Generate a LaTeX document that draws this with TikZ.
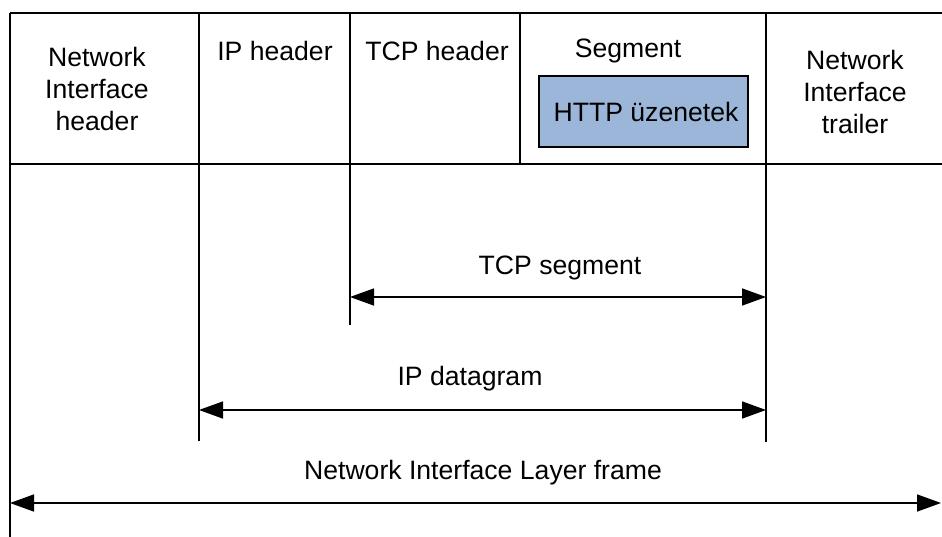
\documentclass[tikz,border=0pt]{standalone}
\usepackage{fontspec}
\setmainfont{Liberation Sans}
\usetikzlibrary{arrows.meta}
\definecolor{httpblue}{RGB}{155,182,216}

\begin{document}
\begin{tikzpicture}[x=1pt,y=-1pt,
  txt/.style={align=center, inner sep=0pt, font=\fontsize{26.6}{32}\selectfont},
  msg/.style={txt, draw, line width=1.5pt, fill=httpblue, minimum width=209pt, minimum height=71pt},
  rule/.style={line width=1.5pt},
  dim/.style={{Triangle[length=24pt,width=17pt]}-{Triangle[length=24pt,width=17pt]}, line width=1.5pt}
]
\useasboundingbox (0,0) rectangle (942,537);

% frame of the packet
\draw[rule] (10,13) -- (942,13);
\draw[rule] (10,164) -- (942,164);
\draw[rule] (10,13) -- (10,537);
\draw[rule] (199,13) -- (199,441);
\draw[rule] (350,13) -- (350,325);
\draw[rule] (520,13) -- (520,164);
\draw[rule] (766,13) -- (766,442);

% cells
\node[txt] (nihdr) at (97,89) {Network\\Interface\\header};
\node[txt] (iphdr) at (275,51) {IP header};
\node[txt] (tcphdr) at (437,51) {TCP header};
\node[txt] (seg) at (628,51) {Segment};
\node[msg] (http) at (643.5,111.5) {\hspace*{5pt}HTTP üzenetek};
\node[txt] (nitrl) at (855,92) {Network\\Interface\\trailer};

% spans
\coordinate (tcpL) at (350,297);
\coordinate (tcpR) at (766,297);
\coordinate (ipL) at (199,410);
\coordinate (ipR) at (766,410);
\coordinate (frL) at (10,503);
\coordinate (frR) at (941,503);

\draw[dim] (tcpL) -- (tcpR);
\draw[dim] (ipL) -- (ipR);
\draw[dim] (frL) -- (frR);

\node[txt] (tcpseg) at (560,268) {TCP segment};
\node[txt] (ipdg) at (470,379) {IP datagram};
\node[txt] (frame) at (483,473) {Network Interface Layer frame};
\end{tikzpicture}
\end{document}
